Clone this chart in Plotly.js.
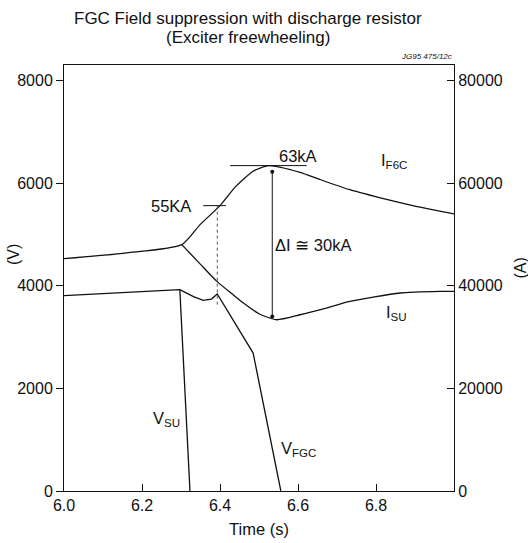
<!DOCTYPE html>
<html>
<head>
<meta charset="utf-8">
<script src="https://cdn.plot.ly/plotly-3.0.1.min.js"></script>
<style>html,body{margin:0;padding:0;background:#fff;}#chart{width:528px;height:543px;}</style>
</head>
<body>
<div id="chart"></div>
<script>
// ---- data ----
// Currents (A), right axis
const timeIF6C = [6.0, 6.161, 6.302, 6.349, 6.40, 6.44, 6.485, 6.525, 6.605, 6.656, 6.733, 6.827, 6.90, 7.0];
const currentIF6C = [45270, 46380, 48000, 51900, 55600, 59300, 62300, 63400, 62100, 60700, 58700, 56800, 55500, 54000];

const timeISU = [6.302, 6.35, 6.392, 6.43, 6.46, 6.50, 6.545, 6.605, 6.67, 6.733, 6.862, 6.964, 7.0];
const currentISU = [48000, 44160, 40840, 38460, 36620, 34540, 33370, 34340, 35600, 36940, 38580, 38890, 38900];

// Voltages (V), left axis
const timeVFGC = [6.0, 6.16, 6.297, 6.332, 6.357, 6.378, 6.393, 6.485, 6.556];
const voltageVFGC = [3805, 3870, 3922, 3786, 3713, 3740, 3838, 2687, 0];

const timeVSU = [6.297, 6.323];
const voltageVSU = [3922, 0];

// Axis ticks
const xTicks = [6.0, 6.2, 6.4, 6.6, 6.8];
const xTickLabels = ["6.0", "6.2", "6.4", "6.6", "6.8"];
const vTicks = [0, 2000, 4000, 6000, 8000];
const vTickLabels = ["0", "2000", "4000", "6000", "8000"];
const aTicks = [0, 20000, 40000, 60000, 80000];
const aTickLabels = ["0", "20000", "40000", "60000", "80000"];

// Marked values
const markedCurrentLow = 55600;   // "55KA"
const markedTime55 = 6.393;
const peakCurrent = 63400;        // "63kA"
const peakTime = 6.534;
const deltaLowCurrent = 34000;

const FONT = "Liberation Sans, Arial, Helvetica, sans-serif";
const lineStyle = {color: "#111", width: 1.3};

const traces = [
  {x: timeIF6C, y: currentIF6C, yaxis: "y2", mode: "lines", line: Object.assign({shape: "spline", smoothing: 0.6}, lineStyle), name: "IF6C"},
  {x: timeISU, y: currentISU, yaxis: "y2", mode: "lines", line: Object.assign({shape: "spline", smoothing: 0.6}, lineStyle), name: "ISU"},
  {x: timeVFGC, y: voltageVFGC, yaxis: "y", mode: "lines", line: lineStyle, name: "VFGC"},
  {x: timeVSU, y: voltageVSU, yaxis: "y", mode: "lines", line: lineStyle, name: "VSU"}
];

const annFont = {family: FONT, size: 16.5, color: "#111"};
const tickFont = {family: FONT, size: 16, color: "#111"};
const titleFont = {family: FONT, size: 17, color: "#111"};

const layout = {
  width: 528, height: 543,
  margin: {l: 64, r: 74, t: 65, b: 52},
  paper_bgcolor: "#fff", plot_bgcolor: "#fff",
  showlegend: false,
  font: {family: FONT, size: 14, color: "#111"},
  xaxis: {
    range: [6.0, 7.0], tickvals: xTicks, ticktext: xTickLabels,
    ticks: "inside", ticklen: 7, tickcolor: "#111",
    showline: true, linecolor: "#111", linewidth: 1, mirror: true,
    showgrid: false, zeroline: false,
    tickfont: tickFont,
    title: {text: "Time (s)", font: {family: FONT, size: 16.5, color: "#111"}, standoff: 10}
  },
  yaxis: {
    range: [0, 8300], tickvals: vTicks, ticktext: vTickLabels,
    ticks: "outside", ticklen: 7, tickcolor: "#111",
    showline: true, linecolor: "#111", linewidth: 1,
    showgrid: false, zeroline: false,
    tickfont: tickFont
  },
  yaxis2: {
    range: [0, 83000], tickvals: aTicks, ticktext: aTickLabels, overlaying: "y", side: "right",
    ticks: "inside", ticklen: 7, tickcolor: "#111",
    showline: true, linecolor: "#111", linewidth: 1,
    showgrid: false, zeroline: false,
    tickfont: tickFont
  },
  shapes: [
    // 55KA marker line
    {type: "line", xref: "x", yref: "y2", x0: 6.357, x1: 6.415, y0: markedCurrentLow, y1: markedCurrentLow, line: {color: "#111", width: 1}},
    // dotted drop line
    {type: "line", xref: "x", yref: "y2", x0: markedTime55, x1: markedTime55, y0: markedCurrentLow, y1: 35700, line: {color: "#555", width: 1, dash: "dot"}},
    // peak tangent line
    {type: "line", xref: "x", yref: "y2", x0: 6.426, x1: 6.622, y0: peakCurrent, y1: peakCurrent, line: {color: "#111", width: 1}}
  ],
  annotations: [
    {x: 0.472, y: 1.110, xref: "paper", yref: "paper", xanchor: "center", yanchor: "middle",
     text: "FGC Field suppression with discharge resistor", showarrow: false, font: titleFont},
    {x: 0.472, y: 1.0657, xref: "paper", yref: "paper", xanchor: "center", yanchor: "middle",
     text: "(Exciter freewheeling)", showarrow: false, font: titleFont},
    {x: -0.128, y: 0.554, xref: "paper", yref: "paper", xanchor: "center", yanchor: "middle", textangle: -90,
     text: "(V)", showarrow: false, font: {family: FONT, size: 16, color: "#111"}},
    {x: 1.17, y: 0.523, xref: "paper", yref: "paper", xanchor: "center", yanchor: "middle", textangle: -90,
     text: "(A)", showarrow: false, font: {family: FONT, size: 16, color: "#111"}},
    {x: peakTime, y: deltaLowCurrent, xref: "x", yref: "y2", ax: peakTime, ay: peakCurrent - 900, axref: "x", ayref: "y2",
     text: "", showarrow: true, arrowhead: 6, startarrowhead: 6, arrowside: "end+start", arrowsize: 1, arrowwidth: 1, arrowcolor: "#111"},
    {x: 6.601, y: 65300, xref: "x", yref: "y2", text: "63kA", showarrow: false, font: annFont},
    {x: 6.275, y: 55600, xref: "x", yref: "y2", text: "55KA", showarrow: false, font: annFont},
    {x: 6.537, y: 48000, xref: "x", yref: "y2", text: "ΔI ≅ 30kA", showarrow: false, font: annFont, xanchor: "left"},
    {x: 6.845, y: 64300, xref: "x", yref: "y2", text: "I<sub>F6C</sub>", showarrow: false, font: annFont},
    {x: 6.852, y: 34700, xref: "x", yref: "y2", text: "I<sub>SU</sub>", showarrow: false, font: annFont},
    {x: 6.262, y: 1400, xref: "x", yref: "y", text: "V<sub>SU</sub>", showarrow: false, font: annFont},
    {x: 6.60, y: 820, xref: "x", yref: "y", text: "V<sub>FGC</sub>", showarrow: false, font: annFont},
    {x: 1.0, y: 1.0, xref: "paper", yref: "paper", xanchor: "right", yanchor: "bottom", yshift: 2,
     text: "<i>JG95 475/12c</i>", showarrow: false, font: {family: FONT, size: 8, color: "#111"}}
  ]
};

Plotly.newPlot("chart", traces, layout, {staticPlot: true, displayModeBar: false});
</script>
</body>
</html>
